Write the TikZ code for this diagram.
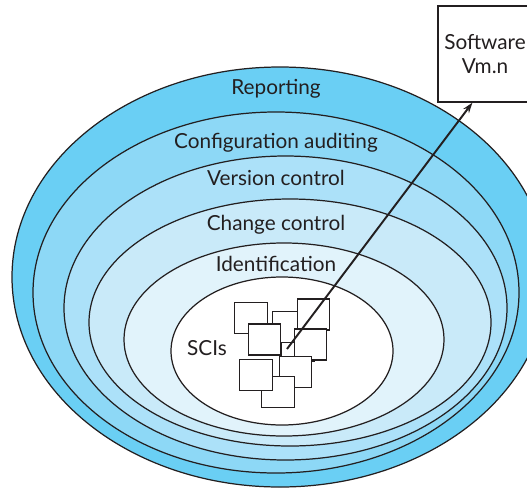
\documentclass[tikz,border=0pt]{standalone}
\usepackage{fontspec}
\setmainfont{Lato}
\usetikzlibrary{arrows.meta,positioning,calc}
\definecolor{layerA}{RGB}{106,207,244}
\definecolor{layerB}{RGB}{141,216,246}
\definecolor{layerC}{RGB}{172,225,249}
\definecolor{layerD}{RGB}{201,234,249}
\definecolor{layerE}{RGB}{225,243,251}
\definecolor{inkgray}{RGB}{35,31,32}

\begin{document}
\begin{tikzpicture}[x=0.02cm, y=-0.02cm,
  ring/.style={draw=inkgray, line width=0.7pt},
  lbl/.style={font=\fontsize{11.8}{13.6}\selectfont, text=inkgray, anchor=base},
  sci/.style={draw=inkgray, line width=0.6pt, fill=white, minimum width=0.65cm,
              minimum height=0.62cm, inner sep=0pt},
  swbox/.style={draw=inkgray, line width=0.7pt, fill=white, minimum width=2.1cm,
                minimum height=1.92cm},
  swtext/.style={align=center, text=inkgray, font=\fontsize{11.8}{13.6}\selectfont},
  arr/.style={-{Stealth[length=6pt,width=4pt]}, line width=1.1pt, draw=inkgray},
]
\useasboundingbox (0,0) rectangle (527,487);
\clip (0,0) rectangle (527,487);

% Layers, outermost first
\filldraw[ring, fill=layerA] (280,277) ellipse [x radius=268, y radius=210];
\filldraw[ring, fill=layerB] (276,292.5) ellipse [x radius=243, y radius=180.5];
\filldraw[ring, fill=layerC] (285.5,308) ellipse [x radius=221.5, y radius=152];
\filldraw[ring, fill=layerD] (290,322.5) ellipse [x radius=201, y radius=123.5];
\filldraw[ring, fill=layerE] (284,339.5) ellipse [x radius=160, y radius=96.5];
\filldraw[ring, fill=white] (282,351) ellipse [x radius=111, y radius=74];

% Layer names
\node[lbl] (lrep) at (276,94) {Reporting};
\node[lbl] (laud) at (276,148) {Configuration auditing};
\node[lbl] (lver) at (276,185) {Version control};
\node[lbl] (lchg) at (276,230) {Change control};
\node[lbl] (lid) at (276,271) {Identification};
\node[lbl] (lsci) at (207,355) {SCIs};

% SCIs, back to front
\node[sci] (b9) at (298,346) {};
\node[sci] (b1) at (251,318.3) {};
\node[sci] (b2) at (288.5,327) {};
\node[sci] (b3) at (264.7,339.5) {};
\node[sci] (b4) at (313.3,314.5) {};
\node[sci] (b5) at (310.3,344.5) {};
\node[sci] (b6) at (295.5,371.7) {};
\node[sci] (b8) at (278.2,392) {};
\node[sci] (b7) at (256,374.7) {};

% Release
\node[swbox] (sw) at (490.5,54) {};
\node[swtext] (swlbl) at (485,54) {Software\\Vm.n};
\coordinate (src) at (287,349);
\draw[arr] (src) -- ($(sw.south west)!0.33!(sw.south east)$);
\end{tikzpicture}
\end{document}
